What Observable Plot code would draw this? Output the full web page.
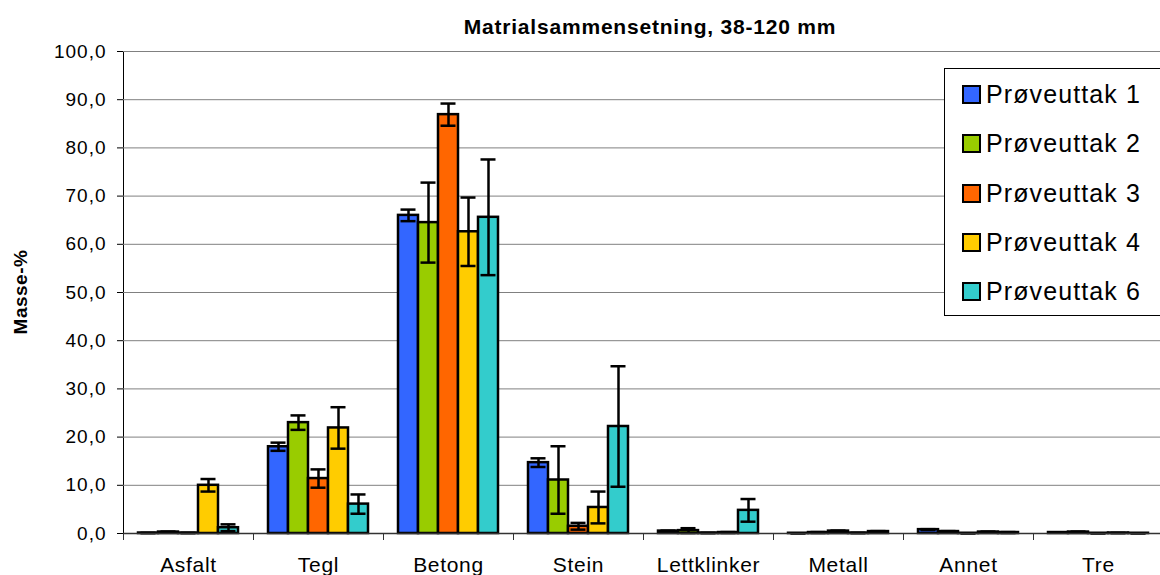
<!DOCTYPE html>
<html>
<head>
<meta charset="utf-8">
<script src="https://cdn.jsdelivr.net/npm/d3@7"></script>
<script src="https://cdn.jsdelivr.net/npm/@observablehq/plot@0.6"></script>
<style>
  html, body { margin: 0; padding: 0; background: #fff; }
  #wrap { position: relative; width: 1160px; height: 575px; overflow: hidden; font-family: "Liberation Sans", Arial, sans-serif; color: #000; }
  #chart { position: absolute; left: 0; top: 0; }
  #title { position: absolute; left: 650px; top: 16px; transform: translateX(-50%); font-size: 21px; line-height: 21px; font-weight: bold; letter-spacing: 0.8px; white-space: nowrap; }
  #ytitle { position: absolute; left: 21px; top: 292px; transform: translate(-50%, -50%) rotate(-90deg); font-size: 19px; font-weight: bold; letter-spacing: 0.5px; white-space: nowrap; }
  #legend { position: absolute; left: 944px; top: 68px; width: 240px; height: 248px; border: 1.5px solid #000; background: #fff; box-sizing: border-box; padding-top: 1px; }
  .row { height: 49.3px; display: flex; align-items: center; }
  .sw { width: 15px; height: 15px; border: 2px solid #000; margin-left: 17px; margin-right: 5px; flex: none; }
  .lab { font-size: 25px; letter-spacing: 1.1px; white-space: nowrap; }
  g[aria-label^="y-axis"] text { font-size: 19px; letter-spacing: 1px; }
  g[aria-label^="fx-axis"] text { font-size: 21px; letter-spacing: 0.7px; }
</style>
</head>
<body>
<div id="wrap">
  <div id="chart"></div>
  <div id="title">Matrialsammensetning, 38-120 mm</div>
  <div id="ytitle">Masse-%</div>
  <div id="legend"></div>
</div>
<script>
const categories = ["Asfalt", "Tegl", "Betong", "Stein", "Lettklinker", "Metall", "Annet", "Tre"];
const series = ["Prøveuttak 1", "Prøveuttak 2", "Prøveuttak 3", "Prøveuttak 4", "Prøveuttak 6"];
const colors = ["#3366FF", "#99CC00", "#FF6600", "#FFCC00", "#33CCCC"];

// mean values (Masse-%) per category, one array per series
const p1 = [0.1, 18.0, 66.0, 14.7, 0.5, 0.05, 0.8, 0.2];
const p2 = [0.3, 23.0, 64.5, 11.1, 0.6, 0.2, 0.4, 0.3];
const p3 = [0.1, 11.4, 86.9, 1.5, 0.1, 0.5, 0.05, 0.05];
const p4 = [10.0, 21.9, 62.6, 5.4, 0.2, 0.1, 0.3, 0.1];
const p6 = [1.2, 6.1, 65.6, 22.2, 4.8, 0.4, 0.2, 0.05];

// error bar half-lengths
const e1 = [0, 0.85, 1.2, 0.9, 0.1, 0, 0.1, 0];
const e2 = [0.1, 1.5, 8.3, 7.0, 0.5, 0.1, 0.1, 0.1];
const e3 = [0, 1.9, 2.3, 0.7, 0, 0.1, 0, 0];
const e4 = [1.3, 4.3, 7.1, 3.3, 0.1, 0, 0.1, 0];
const e6 = [0.7, 2.0, 12.0, 12.5, 2.35, 0.1, 0.1, 0];

const yTicks = [0, 10, 20, 30, 40, 50, 60, 70, 80, 90, 100];

const values = [p1, p2, p3, p4, p6];
const errors = [e1, e2, e3, e4, e6];
const rows = [];
series.forEach((s, si) => {
  categories.forEach((c, ci) => {
    const v = values[si][ci], e = errors[si][ci];
    rows.push({cat: c, series: s, value: v, lo: Math.max(0, v - e), hi: v + e});
  });
});

const W = 1160, H = 575;
const chart = Plot.plot({
  width: W,
  height: H,
  marginLeft: 120,
  marginRight: -6.4,
  marginTop: 51,
  marginBottom: 42,
  style: {fontFamily: '"Liberation Sans", Arial, sans-serif', color: "#000", background: "transparent", overflow: "hidden"},
  fx: {domain: categories, padding: 0, axis: "bottom", label: null, tickSize: 0, tickPadding: 24},
  x: {domain: series, paddingInner: 0, paddingOuter: 0.73, align: 0.5, axis: null},
  y: {domain: [0, 100], ticks: yTicks, tickFormat: d => d.toFixed(1).replace(".", ","), tickSize: 6, tickPadding: 11, line: true, label: null},
  color: {domain: series, range: colors},
  marks: [
    Plot.ruleY(yTicks.filter(d => d > 0), {stroke: "#808080", strokeWidth: 1}),
    Plot.frame({anchor: "left", insetTop: 482, insetBottom: -6, stroke: "#333", strokeWidth: 1}),
    Plot.barY(rows, {fx: "cat", x: "series", y: "value", fill: "series", stroke: "#000", strokeWidth: 2.5}),
    Plot.ruleX(rows, {fx: "cat", x: "series", y1: "lo", y2: "hi", stroke: "#000", strokeWidth: 2.5}),
    Plot.tickY(rows, {fx: "cat", x: "series", y: "hi", stroke: "#000", strokeWidth: 2.5, insetLeft: 2.5, insetRight: 2.5}),
    Plot.tickY(rows, {fx: "cat", x: "series", y: "lo", stroke: "#000", strokeWidth: 2.5, insetLeft: 2.5, insetRight: 2.5}),
    Plot.ruleY([0], {stroke: "#333", strokeWidth: 1.5})
  ]
});
document.getElementById("chart").appendChild(chart);

const legend = document.getElementById("legend");
series.forEach((s, i) => {
  const row = document.createElement("div");
  row.className = "row";
  const sw = document.createElement("div");
  sw.className = "sw";
  sw.style.background = colors[i];
  const lab = document.createElement("div");
  lab.className = "lab";
  lab.textContent = s;
  row.appendChild(sw);
  row.appendChild(lab);
  legend.appendChild(row);
});
</script>
</body>
</html>
